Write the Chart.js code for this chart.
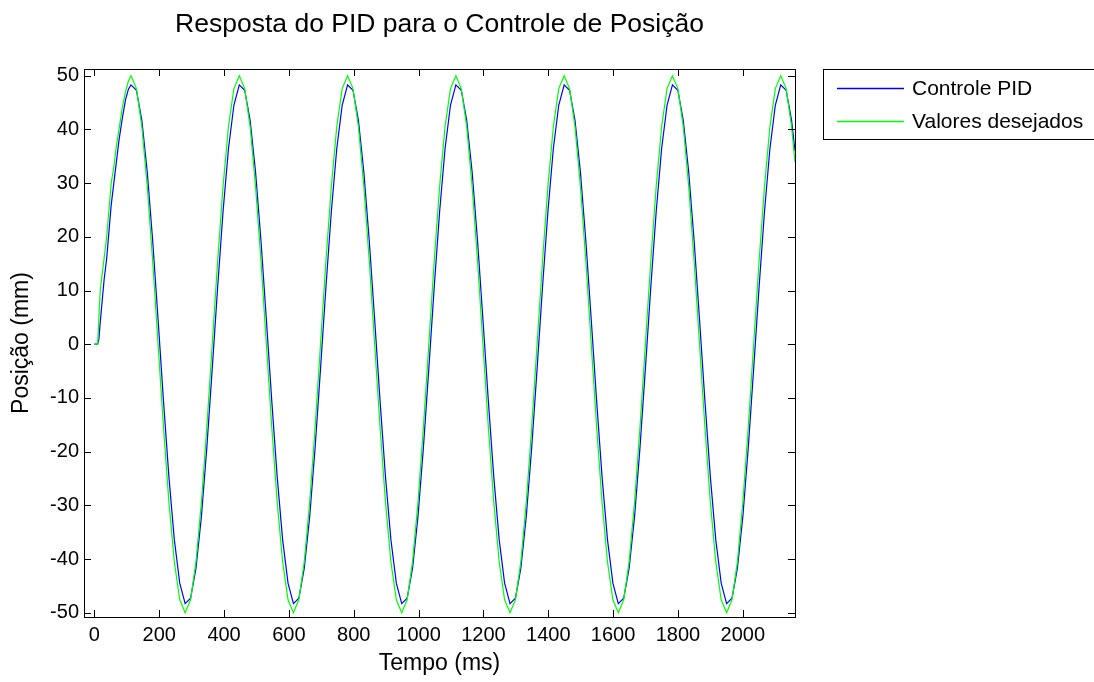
<!DOCTYPE html>
<html>
<head>
<meta charset="utf-8">
<script src="https://cdn.jsdelivr.net/npm/chart.js@4"></script>
<style>
  html, body { margin: 0; padding: 0; background: #fff; }
  #box { width: 1094px; height: 682px; }
</style>
</head>
<body>
<div id="box"><canvas id="grafico"></canvas></div>
<script>
// tempo (ms) dos pontos
const tempo = [
  0, 10, 14, 18, 24, 30, 38, 45, 52, 60, 68, 76, 86, 96, 105,
  113, 129.7, 146.4, 163.1, 179.8, 196.5, 213.2, 229.9, 246.6, 263.3, 280, 296.7, 313.4, 330.1, 346.8, 363.5, 380.2, 396.9, 413.6, 430.3,
  447, 463.7, 480.4, 497.1, 513.8, 530.5, 547.2, 563.9, 580.6, 597.3, 614, 630.7, 647.4, 664.1, 680.8, 697.5, 714.2, 730.9, 747.6, 764.3,
  781, 797.7, 814.4, 831.1, 847.8, 864.5, 881.2, 897.9, 914.6, 931.3, 948, 964.7, 981.4, 998.1, 1014.8, 1031.5, 1048.2, 1064.9, 1081.6, 1098.3,
  1115, 1131.7, 1148.4, 1165.1, 1181.8, 1198.5, 1215.2, 1231.9, 1248.6, 1265.3, 1282, 1298.7, 1315.4, 1332.1, 1348.8, 1365.5, 1382.2, 1398.9, 1415.6, 1432.3,
  1449, 1465.7, 1482.4, 1499.1, 1515.8, 1532.5, 1549.2, 1565.9, 1582.6, 1599.3, 1616, 1632.7, 1649.4, 1666.1, 1682.8, 1699.5, 1716.2, 1732.9, 1749.6, 1766.3,
  1783, 1799.7, 1816.4, 1833.1, 1849.8, 1866.5, 1883.2, 1899.9, 1916.6, 1933.3, 1950, 1966.7, 1983.4, 2000.1, 2016.8, 2033.5, 2050.2, 2066.9, 2083.6, 2100.3,
  2117, 2133.7, 2150.4, 2161
];

// posição medida (mm)
const controlePID = [
  0, 0, 1, 4, 8, 12, 16, 21, 26, 30, 34, 38, 42, 45.5, 47.5,
  48.3, 47.3, 41.7, 32.1, 19.3, 4.6, -10.6, -24.7, -36.4, -44.5, -48.3, -47.3, -41.7, -32.1, -19.3, -4.6, 10.6, 24.7, 36.4, 44.5,
  48.3, 47.3, 41.7, 32.1, 19.3, 4.6, -10.6, -24.7, -36.4, -44.5, -48.3, -47.3, -41.7, -32.1, -19.3, -4.6, 10.6, 24.7, 36.4, 44.5,
  48.3, 47.3, 41.7, 32.1, 19.3, 4.6, -10.6, -24.7, -36.4, -44.5, -48.3, -47.3, -41.7, -32.1, -19.3, -4.6, 10.6, 24.7, 36.4, 44.5,
  48.3, 47.3, 41.7, 32.1, 19.3, 4.6, -10.6, -24.7, -36.4, -44.5, -48.3, -47.3, -41.7, -32.1, -19.3, -4.6, 10.6, 24.7, 36.4, 44.5,
  48.3, 47.3, 41.7, 32.1, 19.3, 4.6, -10.6, -24.7, -36.4, -44.5, -48.3, -47.3, -41.7, -32.1, -19.3, -4.6, 10.6, 24.7, 36.4, 44.5,
  48.3, 47.3, 41.7, 32.1, 19.3, 4.6, -10.6, -24.7, -36.4, -44.5, -48.3, -47.3, -41.7, -32.1, -19.3, -4.6, 10.6, 24.7, 36.4, 44.5,
  48.3, 47.3, 41.7, 36.0
];

// posição desejada (mm)
const valoresDesejados = [
  0, 0, 5, 10, 13, 16, 20, 25, 30, 33, 37, 40, 44, 47, 49,
  50, 47.6, 40.5, 29.4, 15.5, 0, -15.5, -29.4, -40.5, -47.6, -50, -47.6, -40.5, -29.4, -15.5, 0, 15.5, 29.4, 40.5, 47.6,
  50, 47.6, 40.5, 29.4, 15.5, 0, -15.5, -29.4, -40.5, -47.6, -50, -47.6, -40.5, -29.4, -15.5, 0, 15.5, 29.4, 40.5, 47.6,
  50, 47.6, 40.5, 29.4, 15.5, 0, -15.5, -29.4, -40.5, -47.6, -50, -47.6, -40.5, -29.4, -15.5, 0, 15.5, 29.4, 40.5, 47.6,
  50, 47.6, 40.5, 29.4, 15.5, 0, -15.5, -29.4, -40.5, -47.6, -50, -47.6, -40.5, -29.4, -15.5, 0, 15.5, 29.4, 40.5, 47.6,
  50, 47.6, 40.5, 29.4, 15.5, 0, -15.5, -29.4, -40.5, -47.6, -50, -47.6, -40.5, -29.4, -15.5, 0, 15.5, 29.4, 40.5, 47.6,
  50, 47.6, 40.5, 29.4, 15.5, 0, -15.5, -29.4, -40.5, -47.6, -50, -47.6, -40.5, -29.4, -15.5, 0, 15.5, 29.4, 40.5, 47.6,
  50, 47.6, 40.5, 33.9
];

const ticksX = [0, 200, 400, 600, 800, 1000, 1200, 1400, 1600, 1800, 2000];
const ticksY = [-50, -40, -30, -20, -10, 0, 10, 20, 30, 40, 50];

const legendas = ["Controle PID", "Valores desejados"];
const cores = ["#0000ff", "#00ff00"];
const titulo = "Resposta do PID para o Controle de Posição";

const fonte = "'Liberation Sans', Arial, Helvetica, sans-serif";

function pontos(valores) {
  return tempo.map((t, i) => ({ x: t, y: valores[i] }));
}

// título, moldura com marcas internas e legenda no estilo do MATLAB
const moldura = {
  id: "moldura",
  afterDraw(chart) {
    const ctx = chart.ctx;
    const a = chart.chartArea;
    const sx = chart.scales.x;
    const sy = chart.scales.y;
    ctx.save();

    ctx.fillStyle = "#000";
    ctx.font = "26.5px " + fonte;
    ctx.textAlign = "center";
    ctx.textBaseline = "alphabetic";
    ctx.fillText(titulo, (a.left + a.right) / 2, 32);

    ctx.strokeStyle = "#000";
    ctx.lineWidth = 1;
    const tam = 7;
    ctx.beginPath();
    sx.ticks.forEach(t => {
      const px = Math.round(sx.getPixelForValue(t.value)) + 0.5;
      ctx.moveTo(px, a.bottom); ctx.lineTo(px, a.bottom - tam);
      ctx.moveTo(px, a.top); ctx.lineTo(px, a.top + tam);
    });
    sy.ticks.forEach(t => {
      const py = Math.round(sy.getPixelForValue(t.value)) + 0.5;
      ctx.moveTo(a.left, py); ctx.lineTo(a.left + tam, py);
      ctx.moveTo(a.right, py); ctx.lineTo(a.right - tam, py);
    });
    ctx.stroke();
    ctx.strokeRect(Math.round(a.left) + 0.5, Math.round(a.top) + 0.5,
      Math.round(a.right - a.left), Math.round(a.bottom - a.top));

    // legenda
    const lx = 823, ly = 69;
    ctx.fillStyle = "#fff";
    ctx.fillRect(lx, ly, 290, 70);
    ctx.strokeStyle = "#000";
    ctx.strokeRect(lx + 0.5, ly + 0.5, 290, 70);
    ctx.font = "21px " + fonte;
    ctx.textAlign = "left";
    ctx.textBaseline = "middle";
    legendas.forEach((nome, i) => {
      const y = ly + 19 + i * 33;
      ctx.strokeStyle = cores[i];
      ctx.lineWidth = 1.6;
      ctx.beginPath();
      ctx.moveTo(837, y + 0.5);
      ctx.lineTo(904, y + 0.5);
      ctx.stroke();
      ctx.fillStyle = "#000";
      ctx.fillText(nome, 912, y + 1);
    });
    ctx.restore();
  }
};

const ctx = document.getElementById("grafico").getContext("2d");
new Chart(ctx, {
  type: "line",
  data: {
    datasets: [
      {
        label: legendas[0],
        data: pontos(controlePID),
        borderColor: cores[0],
        borderWidth: 1.2,
        pointRadius: 0,
        tension: 0,
        order: 1
      },
      {
        label: legendas[1],
        data: pontos(valoresDesejados),
        borderColor: cores[1],
        borderWidth: 1.2,
        pointRadius: 0,
        tension: 0,
        order: 0
      }
    ]
  },
  options: {
    responsive: true,
    maintainAspectRatio: false,
    animation: false,
    layout: { padding: { top: 69, right: 299, left: 0, bottom: 0 } },
    plugins: {
      legend: { display: false },
      tooltip: { enabled: false },
      title: { display: false }
    },
    scales: {
      x: {
        type: "linear",
        min: -32,
        max: 2161,
        grid: { display: false, drawTicks: false },
        border: { display: false },
        afterBuildTicks(scale) { scale.ticks = ticksX.map(v => ({ value: v })); },
        ticks: {
          autoSkip: false,
          maxRotation: 0,
          padding: 6,
          color: "#000",
          font: { family: fonte, size: 20 },
          callback: v => String(v)
        },
        title: {
          display: true,
          text: "Tempo (ms)",
          color: "#000",
          font: { family: fonte, size: 23 },
          padding: { top: 0, bottom: 5 }
        },
        afterFit(scale) { scale.height = 65; }
      },
      y: {
        min: -50.8,
        max: 51.25,
        grid: { display: false, drawTicks: false },
        border: { display: false },
        afterBuildTicks(scale) { scale.ticks = ticksY.map(v => ({ value: v })); },
        ticks: {
          autoSkip: false,
          padding: 5,
          color: "#000",
          font: { family: fonte, size: 20 },
          callback: v => String(v)
        },
        title: {
          display: true,
          text: "Posição (mm)",
          color: "#000",
          font: { family: fonte, size: 23 },
          padding: { top: 8, bottom: 0 }
        },
        afterFit(scale) { scale.width = 84; }
      }
    }
  },
  plugins: [moldura]
});
</script>
</body>
</html>
